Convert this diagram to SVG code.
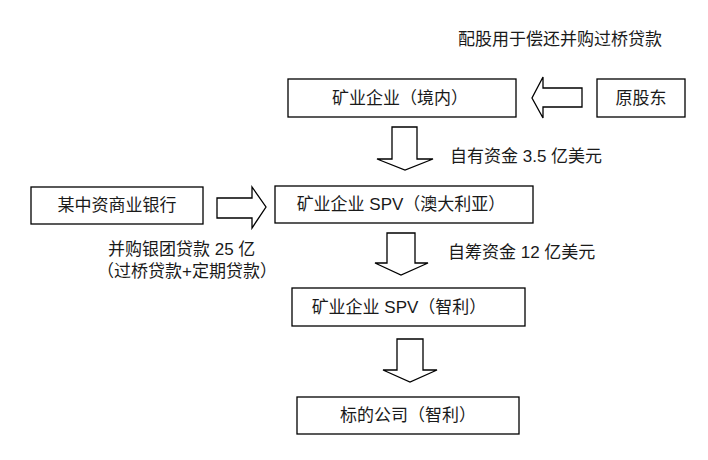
<svg xmlns="http://www.w3.org/2000/svg" width="708" height="460" viewBox="0 0 708 460">
<style>
.box{fill:#fff;stroke:#000;stroke-width:1.3}
.arr{fill:#fff;stroke:#000;stroke-width:1.3;stroke-linejoin:miter}
text{font-family:"Liberation Sans","Noto Sans CJK SC",sans-serif;font-size:17px;fill:#1a1a1a}
.c{text-anchor:middle;dominant-baseline:central}
</style>
<rect width="708" height="460" fill="#fff"/>
<text x="458" y="45">配股用于偿还并购过桥贷款</text>
<g id="n-domestic"><rect class="box" x="288" y="79" width="228" height="38"/><text class="c" x="400" y="98">矿业企业（境内）</text></g>
<g id="n-shareholders"><rect class="box" x="597" y="79" width="88" height="38"/><text class="c" x="641" y="98">原股东</text></g>
<g id="n-bank"><rect class="box" x="31" y="187" width="172" height="37"/><text class="c" x="117" y="205.5">某中资商业银行</text></g>
<g id="n-spv-au"><rect class="box" x="275" y="186" width="258" height="37"/><text class="c" x="401" y="204.5">矿业企业 SPV（澳大利亚）</text></g>
<g id="n-spv-cl"><rect class="box" x="292" y="288" width="233" height="38"/><text class="c" x="399" y="307">矿业企业 SPV（智利）</text></g>
<g id="n-target"><rect class="box" x="297" y="397" width="222" height="37"/><text class="c" x="408" y="415.5">标的公司（智利）</text></g>
<g id="connectors">
<polygon class="arr" points="582,88 543,88 543,77 532,98 543,118 543,107 582,107"/>
<polygon class="arr" points="392,127 417,127 417,159 433,159 405,170 377,159 392,159"/>
<polygon class="arr" points="217,198 252,198 252,187 266,207 252,228 252,218 217,218"/>
<polygon class="arr" points="387,233 415,233 415,263 428,263 401,275 375,263 387,263"/>
<polygon class="arr" points="397,339 423,339 423,370 437,370 410,382 383,370 397,370"/>
</g>
<text x="450" y="162">自有资金 3.5 亿美元</text>
<text x="448" y="258">自筹资金 12 亿美元</text>
<text x="108" y="255">并购银团贷款 25 亿</text>
<text x="97" y="277">（过桥贷款+定期贷款）</text>
</svg>
